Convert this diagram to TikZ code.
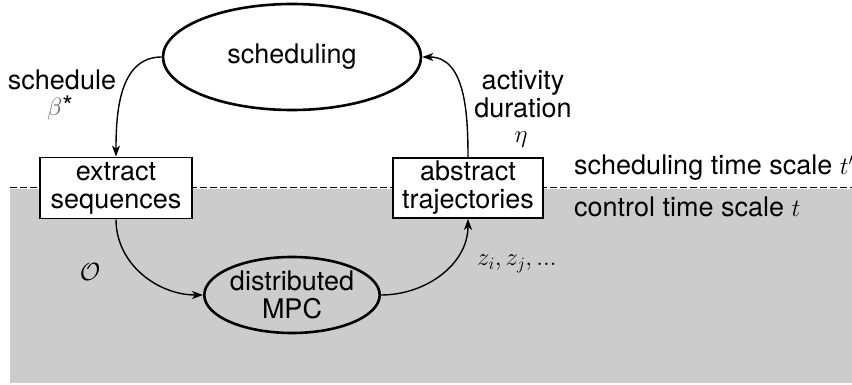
\documentclass[tikz,border=0pt]{standalone}
\usepackage{fontspec}
\setmainfont{TeX Gyre Heros}
\usetikzlibrary{shapes.geometric,arrows.meta}
\begin{document}
\begin{tikzpicture}[x=1pt,y=1pt,
  every node/.style={font=\fontsize{27}{28}\selectfont},
  ell/.style={ellipse,draw,line width=2.6pt,inner sep=0pt,align=center},
  box/.style={rectangle,draw,fill=white,line width=1.8pt,inner sep=0pt,align=center},
  conn/.style={line width=1.4pt,-{Stealth[length=11pt,width=8pt,inset=3pt]}},
  lbl/.style={inner sep=0pt,align=center}]
\useasboundingbox (0,0) rectangle (852,-385);
\fill[black!20] (10,-189) rectangle (852,-383);
\draw[line width=1pt,dash pattern=on 7pt off 3pt] (10,-188) -- (852,-188);

\node[ell,minimum width=258pt,minimum height=106pt] (sch) at (292,-57) {scheduling};
\node[box,minimum width=152pt,minimum height=61pt] (ext) at (116,-188) {extract\\sequences};
\node[box,minimum width=150pt,minimum height=60pt] (abs) at (468,-188) {abstract\\trajectories};
\node[ell,fill=black!20,minimum width=152pt,minimum height=76pt] (mpc) at (292,-295) {distributed\\MPC};

\draw[conn] (sch.west) to[out=180,in=90] (ext.north);
\draw[conn] (abs.north) to[out=90,in=0] (sch.east);
\draw[conn] (ext.south) to[out=270,in=180] (mpc.west);
\draw[conn] (mpc.east) to[out=0,in=270] (abs.south);

\node[lbl] (l1) at (62,-80) {schedule};
\node[lbl] (l2) at (60,-108) {\textcolor{black!65}{$\beta$}*};
\node[lbl] (l3) at (523,-94) {activity\\duration};
\node[lbl] (l4) at (521,-140) {$\eta$};
\node[lbl] (l5) at (90,-272) {$\mathcal{O}$};
\node[lbl,anchor=west] (l6) at (477,-264) {$z_i, z_j, ...$};
\node[lbl,anchor=west] (l7) at (574,-168) {scheduling time scale $t'$};
\node[lbl,anchor=west] (l8) at (574,-207) {control time scale $t$};
\end{tikzpicture}
\end{document}
